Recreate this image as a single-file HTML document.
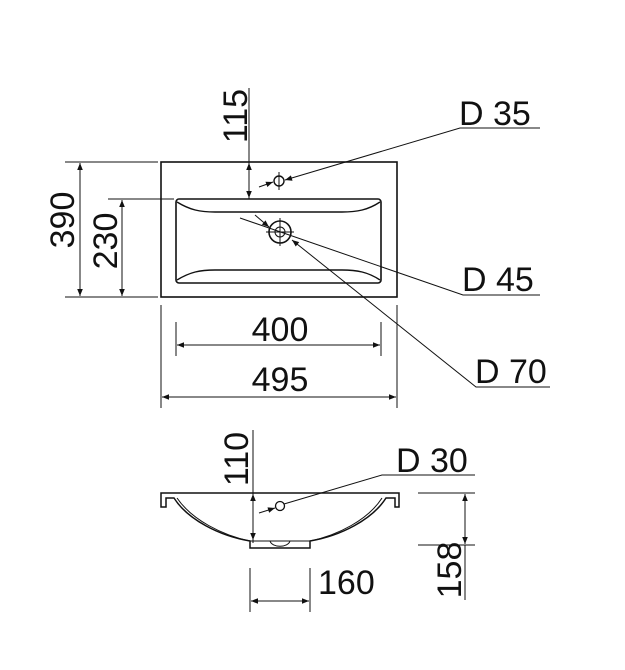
<!DOCTYPE html>
<html><head><style>
html,body{margin:0;padding:0;background:#fff;}
svg{display:block;}
text{font-family:"Liberation Sans",sans-serif;font-size:34px;fill:#111;}
</style></head><body>
<svg width="625" height="670" viewBox="0 0 625 670" xmlns="http://www.w3.org/2000/svg">
<defs>
<marker id="a" viewBox="0 0 10 10" refX="10" refY="5" markerWidth="9" markerHeight="7" orient="auto-start-reverse" markerUnits="userSpaceOnUse"><path d="M0,1 L10,5 L0,9 Z" fill="#111"/></marker>
</defs>
<g stroke="#111" fill="none" stroke-width="1">
<rect x="161" y="162" width="236" height="135" stroke-width="1.6"/>
<rect x="176" y="199" width="205" height="84" rx="3" stroke-width="1.6"/>
<path d="M177,202 C190,210 200,212 215,212 L342,212 C357,212 368,210 380,202" stroke-width="1.4"/>
<path d="M177,280 C190,272 200,270 215,270 L342,270 C357,270 368,272 380,280" stroke-width="1.4"/>
<circle cx="279" cy="181" r="5" stroke-width="1.4"/>
<line x1="279" y1="172" x2="279" y2="190"/>
<circle cx="280" cy="232" r="11" stroke-width="1.6"/>
<circle cx="280" cy="232" r="5"/>
<line x1="266" y1="232" x2="294" y2="232"/><line x1="280" y1="218" x2="280" y2="246"/>
<line x1="249" y1="88" x2="249" y2="199"/>
<line x1="249" y1="175" x2="249" y2="163" marker-end="url(#a)"/>
<line x1="249" y1="186" x2="249" y2="198" marker-end="url(#a)"/>
<line x1="65" y1="162" x2="158" y2="162"/><line x1="65" y1="297" x2="158" y2="297"/>
<line x1="80" y1="163" x2="80" y2="296" marker-start="url(#a)" marker-end="url(#a)"/>
<line x1="108" y1="199" x2="174" y2="199"/>
<line x1="122" y1="200" x2="122" y2="296" marker-start="url(#a)" marker-end="url(#a)"/>
<line x1="176" y1="322" x2="176" y2="356"/><line x1="381" y1="322" x2="381" y2="356"/>
<line x1="177" y1="345" x2="380" y2="345" marker-start="url(#a)" marker-end="url(#a)"/>
<line x1="161" y1="305" x2="161" y2="408"/><line x1="397" y1="305" x2="397" y2="408"/>
<line x1="162" y1="397" x2="396" y2="397" marker-start="url(#a)" marker-end="url(#a)"/>
<polyline points="540,128 460,128 285,180" marker-end="url(#a)"/>
<line x1="259" y1="187" x2="273" y2="182" marker-end="url(#a)"/>
<polyline points="540,295 463,295 240,218"/>
<line x1="255" y1="215" x2="269" y2="227" marker-end="url(#a)"/>
<polyline points="550,387 476,387 292,240" marker-end="url(#a)"/>
<path d="M161,493 L399,493 L399,507 L395,507 L395,498 L391,498 L386,498 C372,520 340,536 310,541 L310,548 L250,548 L250,541 C220,536 188,520 174,498 L166,498 L166,507 L161,507 Z" stroke-width="1.5"/>
<path d="M177,498 C192,520 222,535 250,541" />
<path d="M382,498 C368,520 338,535 310,541"/>
<line x1="250" y1="541" x2="310" y2="541"/>
<path d="M270,541 C272,548 288,548 290,541"/>
<circle cx="280" cy="506" r="4.5" stroke-width="1.3"/>
<polyline points="475,475 382,475 284,504"/>
<line x1="259" y1="513" x2="275" y2="508" marker-end="url(#a)"/>
<line x1="253" y1="430" x2="253" y2="543"/>
<line x1="253" y1="494" x2="253" y2="540" marker-start="url(#a)" marker-end="url(#a)"/>
<line x1="418" y1="493" x2="475" y2="493"/><line x1="418" y1="545" x2="475" y2="545"/>
<line x1="465" y1="494" x2="465" y2="544" marker-start="url(#a)" marker-end="url(#a)"/>
<line x1="465" y1="545" x2="465" y2="600"/>
<line x1="250" y1="568" x2="250" y2="612"/><line x1="310" y1="568" x2="310" y2="612"/>
<line x1="251" y1="601" x2="309" y2="601" marker-start="url(#a)" marker-end="url(#a)"/>
</g>
<text x="280" y="341" text-anchor="middle">400</text>
<text x="280" y="391" text-anchor="middle">495</text>
<text x="459" y="125">D 35</text>
<text x="462" y="291">D 45</text>
<text x="475" y="383">D 70</text>
<text x="396" y="472">D 30</text>
<text x="318" y="594">160</text>
<text transform="translate(247,116) rotate(-90)" text-anchor="middle">115</text>
<text transform="translate(74,220) rotate(-90)" text-anchor="middle">390</text>
<text transform="translate(117,241) rotate(-90)" text-anchor="middle">230</text>
<text transform="translate(248,459) rotate(-90)" text-anchor="middle">110</text>
<text transform="translate(461,570) rotate(-90)" text-anchor="middle">158</text>
</svg>
</body></html>
